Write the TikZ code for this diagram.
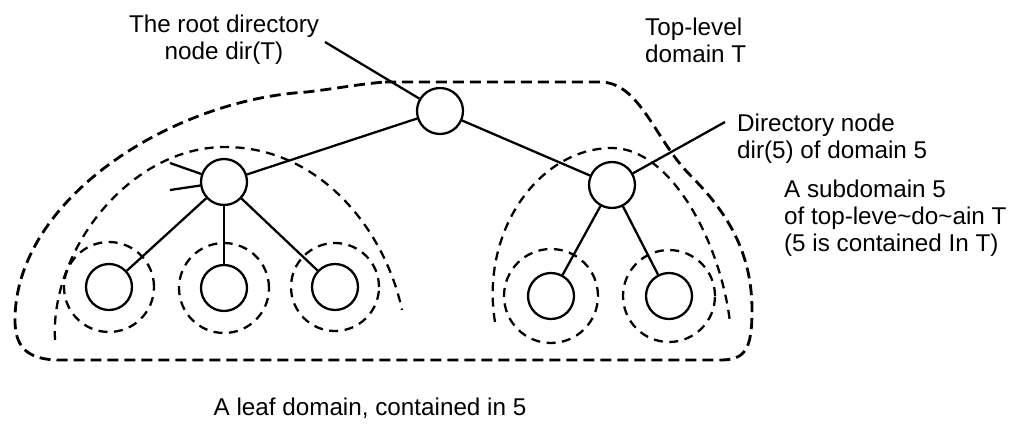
\documentclass[tikz,border=0pt]{standalone}
\usepackage{fontspec}
\setmainfont{Liberation Sans}
\usetikzlibrary{positioning}

\begin{document}
\begin{tikzpicture}[
            x=0.02cm, y=-0.02cm,
            nd/.style={circle, draw, minimum size=9.2mm, inner sep=0pt},
            dom/.style={draw, line width=1.3pt, dash pattern=on 1.8mm off 1.3mm},
            domT/.style={dom, line width=1.6pt, dash pattern=on 2.2mm off 1.2mm},
            lbl/.style={inner sep=0pt, font=\fontsize{13.8}{15.3}\selectfont},
            line width=1.3pt
        ]
        \useasboundingbox (0,0) rectangle (1024,426);
        % directory nodes
        \node[nd] (root) at (440,111) {};
        \node[nd] (dl)   at (224,182) {};
        \node[nd] (d5)   at (612,185) {};
        \node[nd] (l1)   at (109,287) {};
        \node[nd] (l2)   at (224,288) {};
        \node[nd] (l3)   at (335,287) {};
        \node[nd] (r1)   at (551,296) {};
        \node[nd] (r2)   at (669,296) {};
        \draw (root) -- (dl);
        \draw (root) -- (d5);
        \draw (dl) -- (l1);
        \draw (dl) -- (l2);
        \draw (dl) -- (l3);
        \draw (d5) -- (r1);
        \draw (d5) -- (r2);
        % leaf domains
        \draw[dom] (l1.center) circle[radius=0.9cm];
        \draw[dom] (l2.center) circle[radius=0.9cm];
        \draw[dom] (l3.center) circle[radius=0.88cm];
        \draw[dom] (r1.center) circle[radius=0.94cm];
        \draw[dom] (r2.center) circle[radius=0.92cm];
        % subdomains
        \draw[dom] (55,340) .. controls (50,250) and (130,147) .. (225,147)
            .. controls (320,147) and (385,230) .. (402,310);
        \draw[dom] (495,322) .. controls (480,230) and (540,148) .. (612,148)
            .. controls (670,148) and (720,240) .. (730,322);
        % top-level domain T
        \draw[domT] (385,82) -- (600,82) .. controls (640,82) and (655,140) .. (690,175)
            .. controls (725,210) and (752,250) .. (752,310)
            .. controls (752,350) and (745,360) .. (720,360) -- (60,360)
            .. controls (25,360) and (15,345) .. (15,320)
            .. controls (15,200) and (170,100) .. (307,92)
            .. controls (340,88) and (360,84) .. cycle;
        % labels
        \node[lbl, align=center] (rootlbl) at (224,40) {The root directory\\node dir(T)};
        \node[lbl, align=left, anchor=west] (toplbl) at (644,40) {Top-level\\domain T};
        \node[lbl, align=left, anchor=west] (dirlbl) at (736,139) {Directory node\\dir(5) of domain 5};
        \node[lbl, align=left, anchor=west] (sublbl) at (783,218)
            {A subdomain 5\\of top-leve\textasciitilde do\textasciitilde ain T\\(5 is contained In T)};
        \node[lbl] (leaflbl) at (370,408) {A leaf domain, contained in 5};
        \coordinate (rootptr) at (325,42);
        \coordinate (dirptr) at (725,122);
        \coordinate (pa) at (170,163);
        \coordinate (pb) at (170,190);
        \draw (rootptr) -- (root);
        \draw (dirptr) -- (d5);
        \draw (pa) -- (dl);
        \draw (pb) -- (dl);
    \end{tikzpicture}
\end{document}
